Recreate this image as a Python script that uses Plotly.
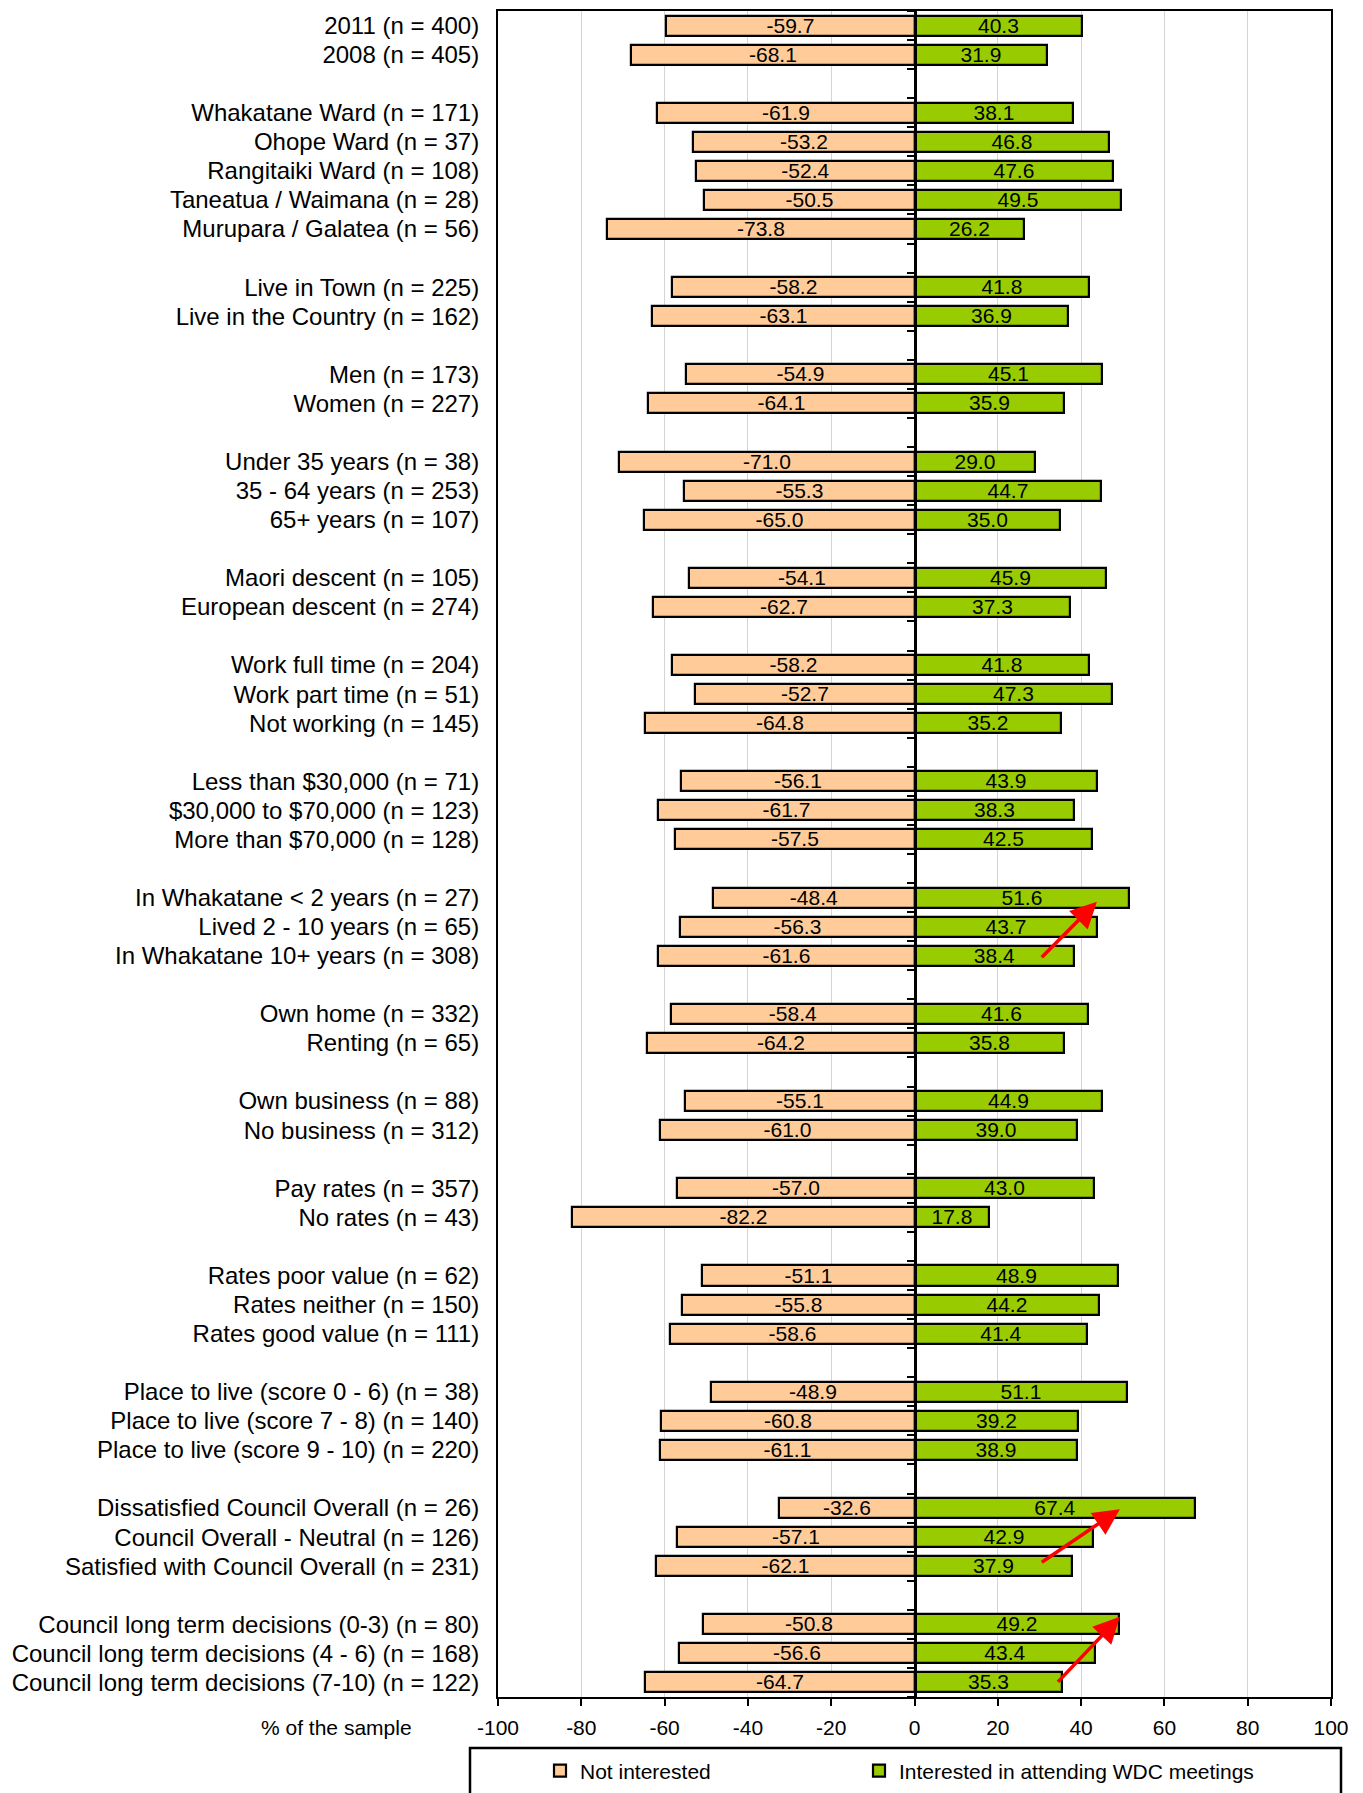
import plotly.graph_objects as go

# ---------------- data ----------------
groups = [
    ["2011 (n = 400)", "2008 (n = 405)"],
    ["Whakatane Ward (n = 171)", "Ohope Ward (n = 37)", "Rangitaiki Ward (n = 108)",
     "Taneatua / Waimana (n = 28)", "Murupara / Galatea (n = 56)"],
    ["Live in Town (n = 225)", "Live in the Country (n = 162)"],
    ["Men (n = 173)", "Women (n = 227)"],
    ["Under 35 years (n = 38)", "35 - 64 years (n = 253)", "65+ years (n = 107)"],
    ["Maori descent (n = 105)", "European descent (n = 274)"],
    ["Work full time (n = 204)", "Work part time (n = 51)", "Not working (n = 145)"],
    ["Less than $30,000 (n = 71)", "$30,000 to $70,000 (n = 123)", "More than $70,000 (n = 128)"],
    ["In Whakatane &lt; 2 years (n = 27)", "Lived 2 - 10 years (n = 65)", "In Whakatane 10+ years (n = 308)"],
    ["Own home (n = 332)", "Renting (n = 65)"],
    ["Own business (n = 88)", "No business (n = 312)"],
    ["Pay rates (n = 357)", "No rates (n = 43)"],
    ["Rates poor value (n = 62)", "Rates neither (n = 150)", "Rates good value (n = 111)"],
    ["Place to live (score 0 - 6) (n = 38)", "Place to live (score 7 - 8) (n = 140)",
     "Place to live (score 9 - 10) (n = 220)"],
    ["Dissatisfied Council Overall (n = 26)", "Council Overall - Neutral (n = 126)",
     "Satisfied with Council Overall (n = 231)"],
    ["Council long term decisions (0-3) (n = 80)", "Council long term decisions (4 - 6) (n = 168)",
     "Council long term decisions (7-10) (n = 122)"],
]

not_interested = [
    -59.7, -68.1,
    -61.9, -53.2, -52.4, -50.5, -73.8,
    -58.2, -63.1,
    -54.9, -64.1,
    -71.0, -55.3, -65.0,
    -54.1, -62.7,
    -58.2, -52.7, -64.8,
    -56.1, -61.7, -57.5,
    -48.4, -56.3, -61.6,
    -58.4, -64.2,
    -55.1, -61.0,
    -57.0, -82.2,
    -51.1, -55.8, -58.6,
    -48.9, -60.8, -61.1,
    -32.6, -57.1, -62.1,
    -50.8, -56.6, -64.7,
]

interested = [
    40.3, 31.9,
    38.1, 46.8, 47.6, 49.5, 26.2,
    41.8, 36.9,
    45.1, 35.9,
    29.0, 44.7, 35.0,
    45.9, 37.3,
    41.8, 47.3, 35.2,
    43.9, 38.3, 42.5,
    51.6, 43.7, 38.4,
    41.6, 35.8,
    44.9, 39.0,
    43.0, 17.8,
    48.9, 44.2, 41.4,
    51.1, 39.2, 38.9,
    67.4, 42.9, 37.9,
    49.2, 43.4, 35.3,
]

x_ticks = [-100, -80, -60, -40, -20, 0, 20, 40, 60, 80, 100]

# arrows: (start_x, start_slot, end_x, end_slot)
arrows = [
    (30.2, 32.1, 43.8, 30.14),
    (30.2, 52.9, 49.3, 51.04),
    (34.1, 57.03, 49.3, 54.74),
]

# ---------------- layout of category slots ----------------
labels, ypos = [], []
slot = 0
for gi, g in enumerate(groups):
    for lab in g:
        labels.append(lab)
        ypos.append(slot)
        slot += 1
    if gi < len(groups) - 1:
        slot += 1  # blank gap row
n_slots = slot
boundaries = [i - 0.5 for i in range(n_slots + 1)]

FONT = "Liberation Sans, Arial, sans-serif"
ORANGE = "#FFCC99"
GREEN = "#99CC00"

W, H = 1363, 1793
# plot area in page pixels
L, R, T, B = 498, 1331, 11, 1697

def px_x(px):
    return (px - L) / (R - L)

def px_y(py):
    return (B - py) / (B - T)

fig = go.Figure()
fig.add_trace(go.Bar(
    name="Not interested", y=ypos, x=not_interested, orientation="h",
    marker=dict(color=ORANGE, line=dict(color="black", width=2.2)),
    width=0.69,
    text=[f"{v:.1f}" for v in not_interested],
    textposition="inside", insidetextanchor="middle", textangle=0,
    constraintext="none",
    textfont=dict(family=FONT, size=21, color="black"),
    hoverinfo="skip", legend="legend",
))
fig.add_trace(go.Bar(
    name="Interested in attending WDC meetings", y=ypos, x=interested, orientation="h",
    marker=dict(color=GREEN, line=dict(color="black", width=2.2)),
    width=0.69,
    text=[f"{v:.1f}" for v in interested],
    textposition="inside", insidetextanchor="middle", textangle=0,
    constraintext="none",
    textfont=dict(family=FONT, size=21, color="black"),
    hoverinfo="skip", legend="legend2",
))
# invisible trace to activate the centre axis
fig.add_trace(go.Scatter(x=[0, 0], y=[boundaries[0], boundaries[-1]], yaxis="y2",
                         mode="lines", line=dict(width=0), showlegend=False, hoverinfo="skip"))

annotations = [
    dict(text="% of the sample", xref="paper", yref="paper",
         x=px_x(414), y=px_y(1727), xanchor="right", yanchor="middle",
         showarrow=False, font=dict(family=FONT, size=21, color="black")),
]
for sx, sy, ex, ey in arrows:
    annotations.append(dict(
        x=ex, y=ey, ax=sx, ay=sy, xref="x", yref="y", axref="x", ayref="y",
        text="", showarrow=True, arrowhead=2, arrowsize=1.5, arrowwidth=3.5,
        arrowcolor="#FF0000", standoff=0, startstandoff=0,
    ))

legend_common = dict(orientation="h", xanchor="left", yanchor="middle",
                     font=dict(family=FONT, size=21, color="black"),
                     bgcolor="rgba(0,0,0,0)", borderwidth=0)

fig.update_layout(
    width=W, height=H,
    margin=dict(l=L, r=W - R, t=T, b=H - B, autoexpand=False),
    paper_bgcolor="white", plot_bgcolor="white",
    barmode="relative", bargap=0,
    font=dict(family=FONT, color="black"),
    showlegend=True,
    legend=dict(x=px_x(540), y=px_y(1771), **legend_common),
    legend2=dict(x=px_x(859), y=px_y(1771), **legend_common),
    xaxis=dict(range=[-100, 100], tickvals=x_ticks, ticktext=[str(v) for v in x_ticks],
               showgrid=True, gridcolor="#D4D4D4", gridwidth=1,
               zeroline=False, showline=True, linecolor="black", linewidth=2, mirror=True,
               ticks="outside", ticklen=7, tickwidth=2, tickcolor="black",
               ticklabelstandoff=4,
               tickfont=dict(family=FONT, size=21, color="black"), fixedrange=True),
    yaxis=dict(range=[boundaries[-1], boundaries[0]], tickvals=ypos, ticktext=labels,
               showgrid=False, zeroline=False, showline=True, linecolor="black",
               linewidth=2, mirror=True, ticks="outside", ticklen=12,
               tickcolor="rgba(0,0,0,0)",
               tickfont=dict(family=FONT, size=24, color="black"), fixedrange=True),
    yaxis2=dict(overlaying="y", matches="y", anchor="free", position=0.5, side="left",
                range=[boundaries[-1], boundaries[0]], tickvals=boundaries,
                showticklabels=False, showgrid=False, zeroline=False,
                showline=True, linecolor="black", linewidth=2.5,
                ticks="outside", ticklen=7, tickwidth=2, tickcolor="black", fixedrange=True),
    annotations=annotations,
    shapes=[dict(type="rect", xref="paper", yref="paper",
                 x0=px_x(470), x1=px_x(1341), y0=px_y(1748), y1=px_y(1810),
                 line=dict(color="black", width=2.5), fillcolor="rgba(0,0,0,0)")],
)

post = ("document.documentElement.style.margin='0';document.body.style.margin='0';"
        "document.body.style.padding='0';document.documentElement.style.overflow='hidden';")
fig.write_html("out.html", post_script=post, config={"displayModeBar": False})
